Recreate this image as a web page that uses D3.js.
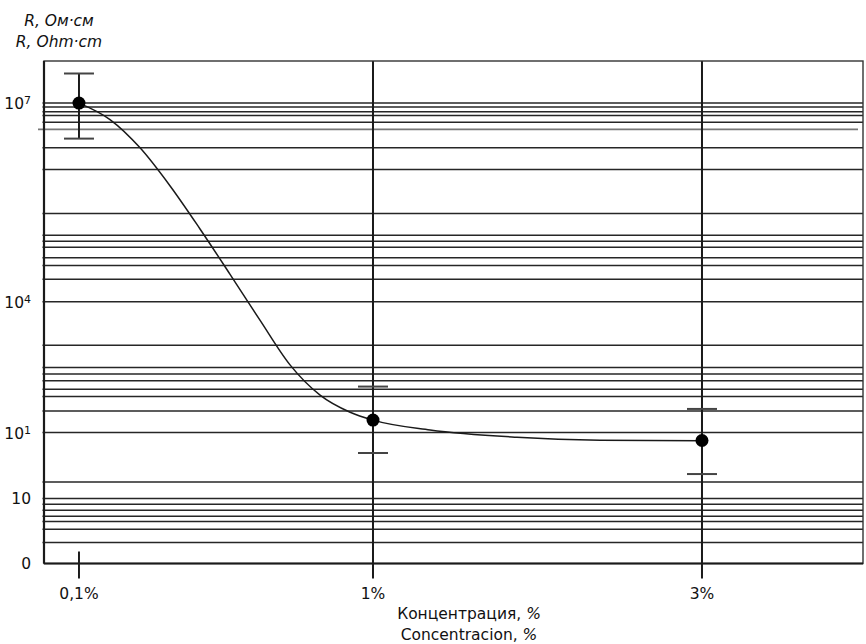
<!DOCTYPE html>
<html>
<head>
<meta charset="utf-8">
<script src="https://cdn.jsdelivr.net/npm/d3@7"></script>
<style>
  body { margin: 0; background: #fff; }
  text { font-family: "DejaVu Sans", sans-serif; fill: #111; }
</style>
</head>
<body>
<svg id="chart" width="866" height="644"></svg>
<script>
/// data ///
// concentration categories (%) and their labels
const concentrations = [0.1, 1, 3];
const concLabels = ["0,1%", "1%", "3%"];
// resistance, on the chart's own level scale (one unit per labelled step)
const resistance = [7.0, 2.18, 1.87];
const errHigh = [7.45, 2.69, 2.35];
const errLow = [6.46, 1.68, 1.36];
// y tick labels and where they sit on the level scale
const yTickLevels = [0, 0.99, 1.99, 3.98, 7.0];
const yTickBase = ["0", "10", "10", "10", "10"];
const yTickSup = ["", "", "1", "4", "7"];
// horizontal rulings
const gridLevels = [7.0, 6.94, 6.87, 6.81, 6.71, 6.32, 5.99, 5.32,
  4.99, 4.90, 4.81, 4.65, 4.53, 4.32, 3.98, 3.32, 2.98, 2.88, 2.78,
  2.65, 2.54, 2.32, 1.99, 1.24, 0.99, 0.90, 0.81, 0.72, 0.64, 0.52, 0.32];
const greyRuleLevel = 6.6;
// the drawn trend curve
const trendConc = [0.1, 0.195, 0.287, 0.379, 0.47, 0.562, 0.654, 0.746,
  0.838, 0.93, 1.0, 1.347, 1.875, 2.38, 3.0];
const trendLevel = [7.0, 6.75, 6.32, 5.74, 5.09, 4.40, 3.70, 3.02,
  2.56, 2.30, 2.18, 2.03, 1.92, 1.875, 1.865];

/// layout ///
const margin = {top: 61, right: 3, bottom: 80.5, left: 44};
const width = 866, height = 644;
const innerW = width - margin.left - margin.right;
const innerH = height - margin.top - margin.bottom;
const ink = "#1a1a1a";

const svg = d3.select("#chart");
const g = svg.append("g").attr("transform", `translate(${margin.left},${margin.top})`);

/// scales ///
// the x axis is not proportional, so a piecewise scale over the concentrations
const x = d3.scaleLinear()
  .domain([0, 0.1, 1, 3, 4])
  .range([0, 0.0427, 0.4017, 0.8034, 1].map(f => f * innerW));
const y = d3.scaleLinear().domain([0, 7.64]).range([innerH, 0]);

/// grid ///
g.selectAll(".hgrid")
  .data(gridLevels)
  .join("line")
  .attr("class", "hgrid")
  .attr("x1", -1.5).attr("x2", innerW)
  .attr("y1", d => y(d)).attr("y2", d => y(d))
  .attr("stroke", "#262626").attr("stroke-width", 1.5);

g.append("line")
  .attr("x1", -6).attr("x2", innerW - 5)
  .attr("y1", y(greyRuleLevel)).attr("y2", y(greyRuleLevel))
  .attr("stroke", "#777").attr("stroke-width", 1.6);

// vertical rulings at 1% and 3%, short tick at 0.1%
g.selectAll(".vgrid")
  .data(concentrations)
  .join("line")
  .attr("class", "vgrid")
  .attr("x1", d => x(d)).attr("x2", d => x(d))
  .attr("y1", (d, i) => i === 0 ? innerH - 12 : 0)
  .attr("y2", innerH + 15)
  .attr("stroke", ink).attr("stroke-width", 2);

// frame
g.append("rect")
  .attr("width", innerW).attr("height", innerH)
  .attr("fill", "none").attr("stroke", "#333").attr("stroke-width", 1.4);
g.append("line").attr("x1", 0).attr("x2", 0).attr("y1", 0).attr("y2", innerH)
  .attr("stroke", ink).attr("stroke-width", 2.2);
g.append("line").attr("x1", 0).attr("x2", innerW).attr("y1", innerH).attr("y2", innerH)
  .attr("stroke", ink).attr("stroke-width", 2);

/// axes labels ///
const yLabels = g.selectAll(".ytick")
  .data(yTickLevels)
  .join("text")
  .attr("class", "ytick")
  .attr("x", -13)
  .attr("y", d => y(d))
  .attr("dy", "0.38em")
  .attr("text-anchor", "end")
  .attr("font-size", "15.5px");
yLabels.append("tspan").text((d, i) => yTickBase[i]);
yLabels.append("tspan")
  .attr("dy", "-0.45em")
  .attr("font-size", "11px")
  .text((d, i) => yTickSup[i]);

g.selectAll(".xtick")
  .data(concentrations)
  .join("text")
  .attr("class", "xtick")
  .attr("x", d => x(d))
  .attr("y", innerH + 35)
  .attr("text-anchor", "middle")
  .attr("font-size", "15.5px")
  .text((d, i) => concLabels[i]);

const xTitle = [["Концентрация, ", "%"], ["Concentracion, ", "%"]];
svg.selectAll(".xtitle")
  .data(xTitle)
  .join("text")
  .attr("class", "xtitle")
  .attr("x", 469)
  .attr("y", (d, i) => 619 + i * 21)
  .attr("text-anchor", "middle")
  .attr("font-size", "15.5px")
  .each(function(d) {
    d3.select(this).append("tspan").text(d[0]);
    d3.select(this).append("tspan").attr("font-style", "italic").text(d[1]);
  });

svg.selectAll(".ytitle")
  .data(["R, Ом·см", "R, Ohm·cm"])
  .join("text")
  .attr("class", "ytitle")
  .attr("x", 59)
  .attr("y", (d, i) => 26 + i * 21)
  .attr("text-anchor", "middle")
  .attr("font-size", "15.5px")
  .attr("font-style", "italic")
  .text(d => d);

/// trend curve ///
const trend = d3.line()
  .x(d => x(d[0]))
  .y(d => y(d[1]))
  .curve(d3.curveMonotoneX);
g.append("path")
  .datum(trendConc.map((c, i) => [c, trendLevel[i]]))
  .attr("d", trend)
  .attr("fill", "none")
  .attr("stroke", ink)
  .attr("stroke-width", 1.5);

/// error bars and points ///
const capHalf = 15;
g.selectAll(".err")
  .data(concentrations)
  .join("line")
  .attr("class", "err")
  .attr("x1", d => x(d)).attr("x2", d => x(d))
  .attr("y1", (d, i) => y(errHigh[i])).attr("y2", (d, i) => y(errLow[i]))
  .attr("stroke", ink).attr("stroke-width", 2);
[errHigh, errLow].forEach(arr => {
  g.selectAll(null)
    .data(concentrations)
    .join("line")
    .attr("x1", d => x(d) - capHalf).attr("x2", d => x(d) + capHalf)
    .attr("y1", (d, i) => y(arr[i])).attr("y2", (d, i) => y(arr[i]))
    .attr("stroke", "#444").attr("stroke-width", 2);
});
g.selectAll(".pt")
  .data(concentrations)
  .join("circle")
  .attr("class", "pt")
  .attr("cx", d => x(d))
  .attr("cy", (d, i) => y(resistance[i]))
  .attr("r", 6.5)
  .attr("fill", "#000");
</script>
</body>
</html>
